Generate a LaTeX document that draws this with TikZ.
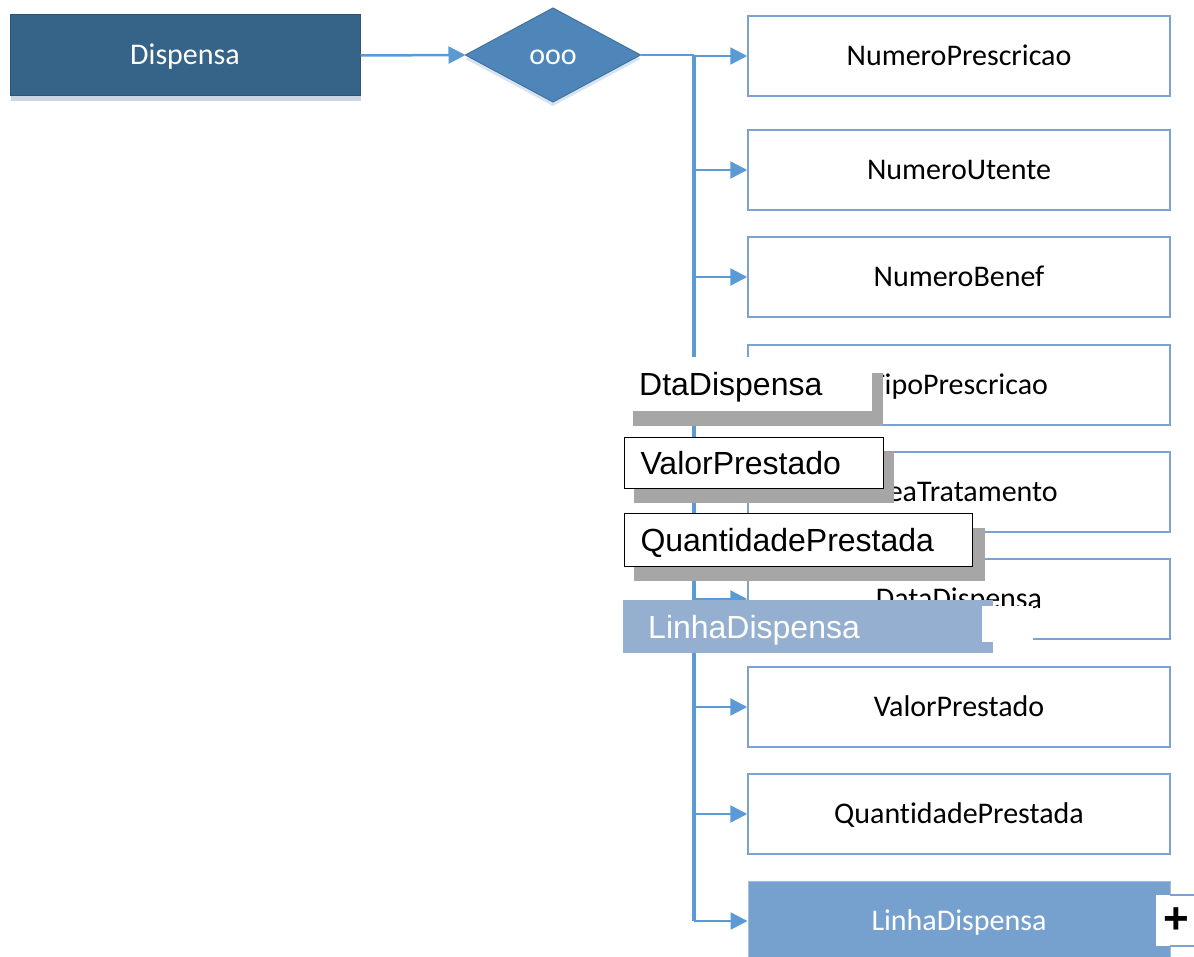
\documentclass[tikz,border=0pt]{standalone}
\usepackage{fontspec}
\setmainfont[Ligatures=NoCommon]{Carlito}
\newfontfamily\arialfont{Liberation Sans}
\usetikzlibrary{shapes.geometric,arrows.meta}

\definecolor{entityfill}{HTML}{366388}
\definecolor{entityline}{HTML}{2E5473}
\definecolor{entityshade}{HTML}{CAD6E4}
\definecolor{diafill}{HTML}{4F86BA}
\definecolor{dialine}{HTML}{41719C}
\definecolor{diashade}{HTML}{D6E4F2}
\definecolor{connblue}{HTML}{5B9BD5}
\definecolor{boxline}{HTML}{7BA2D1}
\definecolor{subfill}{HTML}{76A0CE}
\definecolor{bandfill}{HTML}{95AFD0}
\definecolor{tipshade}{HTML}{A6A6A6}

\begin{document}
\begin{tikzpicture}[x=1pt,y=-1pt,
  calib/.style={font=\fontsize{30}{36}\selectfont},
  arial/.style={font=\arialfont\fontsize{32}{38}\selectfont},
  entity/.style={calib, draw=entityline, line width=1pt, fill=entityfill, text=white,
    minimum width=350pt, minimum height=81pt, inner sep=0pt, text height=19pt, text depth=0pt},
  choice/.style={calib, diamond, draw=dialine, line width=1pt, fill=diafill, text=white,
    minimum width=175pt, minimum height=94pt, inner sep=0pt, outer sep=0pt,
    text height=19pt, text depth=0pt},
  attrbox/.style={calib, draw=boxline, line width=1.5pt, fill=white,
    minimum width=422pt, minimum height=80pt, inner sep=0pt, text height=19pt, text depth=0pt},
  subbox/.style={attrbox, fill=subfill, draw=boxline!70, line width=1pt, text=white},
  conn/.style={draw=connblue, line width=2.5pt},
  trunkline/.style={draw=connblue, line width=3.5pt},
  arrowconn/.style={conn, -{Triangle[length=17pt,width=17pt]}},
  tiplabel/.style={arial, anchor=north west, fill=white, inner xsep=16pt, inner ysep=0pt,
    align=left, text height=23pt, text depth=0pt},
]
\useasboundingbox (0,0) rectangle (1194,957);

% entity and its shadow
\fill[entityshade] (11,20) rectangle (361,101);
\node[entity] (disp) at (185,55.5) {Dispensa};

% sequence symbol and its shadow
\node[choice, draw=none, fill=diashade] at (553,59) {};
\node[choice] (dia) at (553,55) {ooo};

\draw[arrowconn] (disp.east) -- (dia.west);

% attribute boxes
\node[attrbox] (b1) at (959,56)  {NumeroPrescricao};
\node[attrbox] (b2) at (959,170) {NumeroUtente};
\node[attrbox] (b3) at (959,277) {NumeroBenef};
\node[attrbox] (b4) at (959,385) {TipoPrescricao};
\node[attrbox] (b5) at (959,492) {AreaTratamento};
\node[attrbox] (b6) at (959,599) {DataDispensa};
\node[attrbox] (b7) at (959,707) {ValorPrestado};
\node[attrbox] (b8) at (959,814) {QuantidadePrestada};
\node[subbox]  (b9) at (959,921) {LinhaDispensa};

% trunk and branches
\coordinate (ttop) at (694,55);
\draw[conn] (dia.east) -- (ttop);
\draw[trunkline] (ttop) -- (ttop |- b9.west);
\foreach \b in {b1,b2,b3,b4,b5,b6,b7,b8,b9}
  \draw[arrowconn] (ttop |- \b.west) -- (\b.west);

% expand marker
\node[fill=white, minimum width=40pt, minimum height=51pt, inner sep=0pt, anchor=north west,
  font=\arialfont\bfseries\fontsize{44}{44}\selectfont] (plus) at (1156,895) {+};
\draw[boxline, line width=1.5pt] (1170,895) -- (1194,895) (1170,946) -- (1194,946);

% floating labels
\fill[tipshade] (633,373) rectangle (883,426);
\node[tiplabel, text width=217pt, minimum height=54pt] (tip1) at (623,357) {DtaDispensa};

\fill[tipshade] (634,452) rectangle (894,503);
\node[tiplabel, draw=black, line width=1pt, text width=227pt, minimum height=51pt] (tip2) at (624,437) {ValorPrestado};

\fill[tipshade] (634,528) rectangle (985,581);
\node[tiplabel, draw=black, line width=1pt, text width=316pt, minimum height=53pt] (tip3) at (624,513) {QuantidadePrestada};

\node[tiplabel, fill=bandfill, text=white, inner xsep=25pt, text width=320pt, minimum height=53pt] (tip4) at (623,600) {LinhaDispensa};
\fill[white] (982,606) rectangle (1033,642);
\end{tikzpicture}
\end{document}
